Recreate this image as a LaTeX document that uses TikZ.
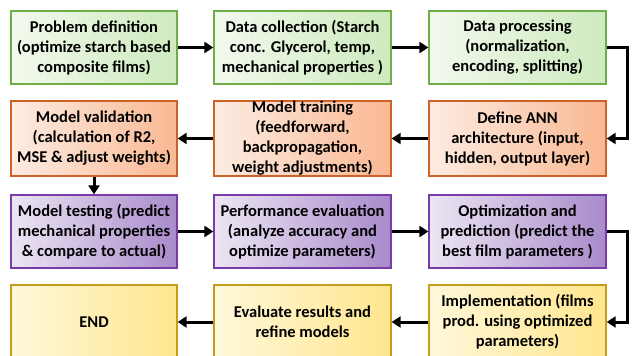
\documentclass[tikz,border=0pt]{standalone}
\usepackage{fontspec}
\setmainfont{Carlito}
\usepackage{tikz}
\usetikzlibrary{arrows.meta,positioning}
\definecolor{fcGreenLine}{RGB}{112,173,71}
\definecolor{fcGreenL}{RGB}{242,249,237}
\definecolor{fcGreenR}{RGB}{206,234,190}
\definecolor{fcOrangeLine}{RGB}{205,98,40}
\definecolor{fcOrangeL}{RGB}{253,236,226}
\definecolor{fcOrangeR}{RGB}{249,184,146}
\definecolor{fcPurpleLine}{RGB}{120,60,170}
\definecolor{fcPurpleL}{RGB}{236,230,243}
\definecolor{fcPurpleR}{RGB}{168,138,202}
\definecolor{fcYellowLine}{RGB}{196,156,30}
\definecolor{fcYellowL}{RGB}{255,248,218}
\definecolor{fcYellowR}{RGB}{255,230,142}

\begin{document}
\begin{tikzpicture}[x=1pt, y=-1pt, font=\bfseries\fontsize{16.5}{20}\selectfont,
  >={Triangle[length=9pt,width=11pt]},
  box/.style={draw, line width=1.3pt, align=center, inner sep=0pt, minimum height=73pt},
  greenbox/.style={box, draw=fcGreenLine, left color=fcGreenL, right color=fcGreenR},
  orangebox/.style={box, draw=fcOrangeLine, left color=fcOrangeL, right color=fcOrangeR, minimum height=75pt},
  purplebox/.style={box, draw=fcPurpleLine, left color=fcPurpleL, right color=fcPurpleR},
  yellowbox/.style={box, draw=fcYellowLine, left color=fcYellowL, right color=fcYellowR, minimum height=74pt},
  flow/.style={->, line width=3pt}]
\useasboundingbox (0,0) rectangle (632,356);

% row 1
\node[greenbox, minimum width=166pt] (prob) at (94,47.5)
  {Problem definition\\(optimize starch based\\composite films)};
\node[greenbox, minimum width=177pt] (coll) at (302.5,47.5)
  {Data collection (Starch\\conc. Glycerol, temp,\\mechanical properties )};
\node[greenbox, minimum width=177pt] (proc) at (517.5,47.5)
  {Data processing\\(normalization,\\encoding, splitting)};

% row 2
\node[orangebox, minimum width=177pt] (ann) at (517.5,138.5)
  {Define ANN\\architecture (input,\\hidden, output layer)};
\node[orangebox, minimum width=177pt] (train) at (302.5,138.5)
  {Model training\\(feedforward,\\backpropagation,\\weight adjustments)};
\node[orangebox, minimum width=166pt] (valid) at (94,138.5)
  {Model validation\\(calculation of R2,\\MSE \& adjust weights)};

% row 3
\node[purplebox, minimum width=166pt] (test) at (94,231.5)
  {Model testing (predict\\mechanical properties\\\& compare to actual)};
\node[purplebox, minimum width=177pt] (perf) at (302.5,231.5)
  {Performance evaluation\\(analyze accuracy and\\optimize parameters)};
\node[purplebox, minimum width=177pt] (optim) at (517.5,231.5)
  {Optimization and\\prediction (predict the\\best film parameters )};

% row 4
\node[yellowbox, minimum width=177pt] (impl) at (517.5,322)
  {Implementation (films\\prod. using optimized\\parameters)};
\node[yellowbox, minimum width=177pt] (evalr) at (302.5,322)
  {Evaluate results and\\refine models};
\node[yellowbox, minimum width=166pt] (fin) at (94,322) {END};

\draw[flow] (prob) -- (coll);
\draw[flow] (coll) -- (proc);
\draw[flow] (proc.east) -- ++(21,0) |- (ann.east);
\draw[flow] (ann) -- (train);
\draw[flow] (train) -- (valid);
\draw[flow] (valid) -- (test);
\draw[flow] (test) -- (perf);
\draw[flow] (perf) -- (optim);
\draw[flow] (optim.east) -- ++(21,0) |- (impl.east);
\draw[flow] (impl) -- (evalr);
\draw[flow] (evalr) -- (fin);
\end{tikzpicture}
\end{document}
